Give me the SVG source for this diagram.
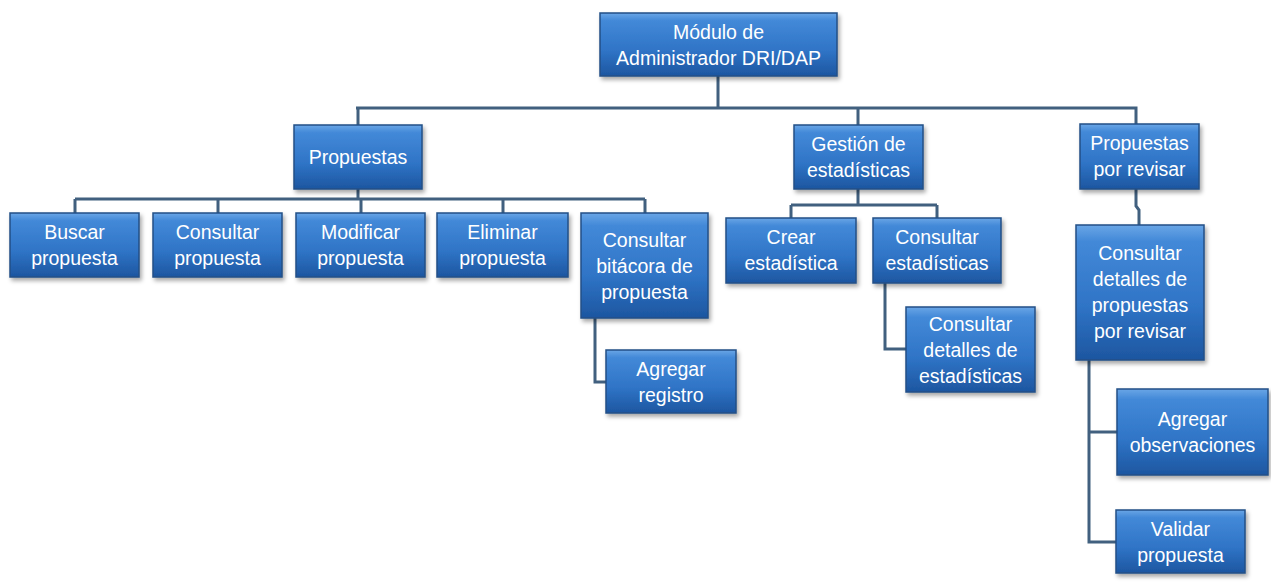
<svg xmlns="http://www.w3.org/2000/svg" width="1271" height="586" viewBox="0 0 1271 586">
<defs>
<linearGradient id="g" x1="0" y1="0" x2="0" y2="1">
<stop offset="0" stop-color="#6aa6e6"/>
<stop offset="0.12" stop-color="#4389d8"/>
<stop offset="0.6" stop-color="#2f74c6"/>
<stop offset="1" stop-color="#1d56a0"/>
</linearGradient>
<filter id="sh" x="-10%" y="-10%" width="125%" height="130%">
<feDropShadow dx="2" dy="3" stdDeviation="2" flood-color="#000" flood-opacity="0.35"/>
</filter>
</defs>
<style>
.box{fill:url(#g);stroke:#234f86;stroke-width:1.5;filter:url(#sh)}
text{font-family:"Liberation Sans",Arial,sans-serif;font-size:19.5px;fill:#ffffff;text-anchor:middle}
.c{fill:none;stroke:#41607f;stroke-width:3;stroke-linejoin:miter}
</style>
<rect width="1271" height="586" fill="#ffffff"/>
<g id="connectors">
<path class="c" d="M718 76V108M356 108H1136V124M358 108V125M858 108V125"/>
<path class="c" d="M358 189V199M75 199H645M75 199V213M218 199V213M361 199V213M503 199V213M645 199V213"/>
<path class="c" d="M595 318V382H606"/>
<path class="c" d="M858 189V205M791 205H937M791 205V218M937 205V218"/>
<path class="c" d="M885 283V349H906"/>
<path class="c" d="M1136 189V206L1139 210V225"/>
<path class="c" d="M1089 360V542H1116M1089 432H1117"/>
</g>
<g id="root"><rect class="box" x="600" y="13" width="237" height="63"/><text x="718.5" y="39">Módulo de</text><text x="718.5" y="65">Administrador DRI/DAP</text></g>
<g id="propuestas"><rect class="box" x="294" y="125" width="128" height="64"/><text x="358" y="164">Propuestas</text></g>
<g id="gestion"><rect class="box" x="794" y="125" width="129" height="64"/><text x="858.5" y="151">Gestión de</text><text x="858.5" y="177">estadísticas</text></g>
<g id="porrevisar"><rect class="box" x="1080" y="124" width="119" height="65"/><text x="1139.5" y="150">Propuestas</text><text x="1139.5" y="176">por revisar</text></g>
<g id="buscar"><rect class="box" x="10" y="213" width="129" height="64"/><text x="74.5" y="239">Buscar</text><text x="74.5" y="265">propuesta</text></g>
<g id="consultar"><rect class="box" x="153" y="213" width="129" height="64"/><text x="217.5" y="239">Consultar</text><text x="217.5" y="265">propuesta</text></g>
<g id="modificar"><rect class="box" x="296" y="213" width="129" height="64"/><text x="360.5" y="239">Modificar</text><text x="360.5" y="265">propuesta</text></g>
<g id="eliminar"><rect class="box" x="437" y="213" width="131" height="64"/><text x="502.5" y="239">Eliminar</text><text x="502.5" y="265">propuesta</text></g>
<g id="bitacora"><rect class="box" x="581" y="213" width="127" height="105"/><text x="644.5" y="247">Consultar</text><text x="644.5" y="273">bitácora de</text><text x="644.5" y="299">propuesta</text></g>
<g id="agregarregistro"><rect class="box" x="606" y="350" width="130" height="63"/><text x="671" y="376">Agregar</text><text x="671" y="402">registro</text></g>
<g id="crear"><rect class="box" x="726" y="218" width="130" height="65"/><text x="791" y="244">Crear</text><text x="791" y="270">estadística</text></g>
<g id="consultarest"><rect class="box" x="873" y="218" width="128" height="65"/><text x="937" y="244">Consultar</text><text x="937" y="270">estadísticas</text></g>
<g id="detallesest"><rect class="box" x="906" y="307" width="129" height="85"/><text x="970.5" y="331">Consultar</text><text x="970.5" y="357">detalles de</text><text x="970.5" y="383">estadísticas</text></g>
<g id="detallesprop"><rect class="box" x="1076" y="225" width="128" height="135"/><text x="1140" y="260">Consultar</text><text x="1140" y="286">detalles de</text><text x="1140" y="312">propuestas</text><text x="1140" y="338">por revisar</text></g>
<g id="observaciones"><rect class="box" x="1117" y="389" width="151" height="86"/><text x="1192.5" y="426">Agregar</text><text x="1192.5" y="452">observaciones</text></g>
<g id="validar"><rect class="box" x="1116" y="510" width="129" height="63"/><text x="1180.5" y="536">Validar</text><text x="1180.5" y="562">propuesta</text></g>
</svg>
